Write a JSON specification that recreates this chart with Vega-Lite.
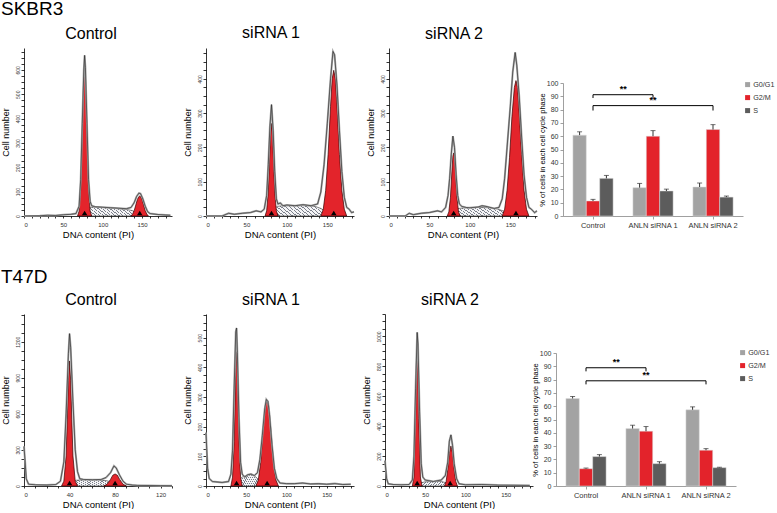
{
"$schema":"https://vega.github.io/schema/vega-lite/v6.json",
"padding":{"left":0,"top":0,"right":0,"bottom":0},
"config":{"view":{"stroke":null},"font":"Liberation Sans","title":{"font":"Liberation Sans","fontWeight":"normal","color":"#000"},"axis":{"labelFont":"Liberation Sans","titleFont":"Liberation Sans","grid":false,"domainColor":"#000","tickColor":"#000","labelColor":"#333","titleColor":"#000","titleFontWeight":"normal","labelOverlap":false,"domainWidth":0.8,"tickWidth":0.8}},
"resolve":{"scale":{"color":"independent"},"legend":{"color":"independent"}},
"datasets":{
"skc":[
{"c":"r","x":0,"v":0},{"c":"r","x":20,"v":1},{"c":"r","x":30,"v":3},{"c":"r","x":40,"v":2},{"c":"r","x":50,"v":5},{"c":"r","x":60,"v":7},{"c":"r","x":66,"v":10},{"c":"r","x":70,"v":40},{"c":"r","x":72,"v":150},{"c":"r","x":74,"v":380},{"c":"r","x":76,"v":600},{"c":"r","x":77,"v":660},{"c":"r","x":78,"v":610},{"c":"r","x":80,"v":380},{"c":"r","x":82,"v":150},{"c":"r","x":84,"v":60},{"c":"r","x":86,"v":42},{"c":"r","x":90,"v":38},{"c":"r","x":100,"v":36},{"c":"r","x":110,"v":34},{"c":"r","x":120,"v":32},{"c":"r","x":130,"v":30},{"c":"r","x":136,"v":35},{"c":"r","x":140,"v":55},{"c":"r","x":143,"v":80},{"c":"r","x":146,"v":94},{"c":"r","x":148,"v":92},{"c":"r","x":151,"v":70},{"c":"r","x":154,"v":40},{"c":"r","x":157,"v":18},{"c":"r","x":160,"v":10},{"c":"r","x":170,"v":6},{"c":"r","x":180,"v":4},{"c":"r","x":186,"v":3},
{"c":"g1","x":68,"v":0},{"c":"g1","x":70,"v":20},{"c":"g1","x":72,"v":110},{"c":"g1","x":74,"v":330},{"c":"g1","x":75,"v":470},{"c":"g1","x":76,"v":580},{"c":"g1","x":77,"v":620},{"c":"g1","x":78,"v":580},{"c":"g1","x":79,"v":470},{"c":"g1","x":80,"v":330},{"c":"g1","x":82,"v":110},{"c":"g1","x":84,"v":20},{"c":"g1","x":86,"v":0},
{"c":"g2","x":136,"v":0},{"c":"g2","x":138,"v":8},{"c":"g2","x":140,"v":22},{"c":"g2","x":142,"v":45},{"c":"g2","x":144,"v":68},{"c":"g2","x":146,"v":80},{"c":"g2","x":147,"v":82},{"c":"g2","x":148,"v":80},{"c":"g2","x":150,"v":68},{"c":"g2","x":152,"v":45},{"c":"g2","x":154,"v":22},{"c":"g2","x":156,"v":8},{"c":"g2","x":158,"v":0},
{"c":"s","x":74,"v":0},{"c":"s","x":78,"v":20},{"c":"s","x":82,"v":35},{"c":"s","x":90,"v":37},{"c":"s","x":100,"v":35},{"c":"s","x":110,"v":33},{"c":"s","x":120,"v":30},{"c":"s","x":130,"v":27},{"c":"s","x":138,"v":22},{"c":"s","x":144,"v":12},{"c":"s","x":150,"v":0},
{"c":"m","x":77,"v":0},{"c":"m","x":147,"v":0}],
"sk1":[
{"c":"r","x":0,"v":0},{"c":"r","x":20,"v":0},{"c":"r","x":25,"v":5},{"c":"r","x":28,"v":8},{"c":"r","x":35,"v":5},{"c":"r","x":45,"v":8},{"c":"r","x":55,"v":10},{"c":"r","x":62,"v":15},{"c":"r","x":68,"v":12},{"c":"r","x":72,"v":20},{"c":"r","x":75,"v":60},{"c":"r","x":77,"v":150},{"c":"r","x":79,"v":260},{"c":"r","x":81,"v":325},{"c":"r","x":83,"v":250},{"c":"r","x":85,"v":130},{"c":"r","x":87,"v":50},{"c":"r","x":89,"v":35},{"c":"r","x":92,"v":38},{"c":"r","x":95,"v":30},{"c":"r","x":100,"v":32},{"c":"r","x":110,"v":30},{"c":"r","x":120,"v":33},{"c":"r","x":130,"v":30},{"c":"r","x":138,"v":35},{"c":"r","x":142,"v":70},{"c":"r","x":146,"v":150},{"c":"r","x":150,"v":270},{"c":"r","x":154,"v":400},{"c":"r","x":157,"v":480},{"c":"r","x":159,"v":470},{"c":"r","x":162,"v":380},{"c":"r","x":165,"v":250},{"c":"r","x":168,"v":130},{"c":"r","x":171,"v":55},{"c":"r","x":174,"v":25},{"c":"r","x":177,"v":20},{"c":"r","x":180,"v":10},{"c":"r","x":183,"v":12},
{"c":"g1","x":73,"v":0},{"c":"g1","x":75,"v":15},{"c":"g1","x":77,"v":70},{"c":"g1","x":79,"v":190},{"c":"g1","x":80,"v":245},{"c":"g1","x":81,"v":270},{"c":"g1","x":82,"v":245},{"c":"g1","x":83,"v":190},{"c":"g1","x":85,"v":70},{"c":"g1","x":87,"v":15},{"c":"g1","x":89,"v":0},
{"c":"g2","x":142,"v":0},{"c":"g2","x":145,"v":20},{"c":"g2","x":148,"v":75},{"c":"g2","x":151,"v":180},{"c":"g2","x":154,"v":320},{"c":"g2","x":156,"v":400},{"c":"g2","x":158,"v":425},{"c":"g2","x":160,"v":400},{"c":"g2","x":162,"v":320},{"c":"g2","x":165,"v":180},{"c":"g2","x":168,"v":75},{"c":"g2","x":171,"v":20},{"c":"g2","x":174,"v":0},
{"c":"s","x":78,"v":0},{"c":"s","x":82,"v":15},{"c":"s","x":88,"v":28},{"c":"s","x":95,"v":30},{"c":"s","x":110,"v":30},{"c":"s","x":125,"v":30},{"c":"s","x":135,"v":28},{"c":"s","x":142,"v":22},{"c":"s","x":150,"v":10},{"c":"s","x":158,"v":0},
{"c":"m","x":81,"v":0},{"c":"m","x":158,"v":0}],
"sk2":[
{"c":"r","x":0,"v":0},{"c":"r","x":20,"v":0},{"c":"r","x":25,"v":8},{"c":"r","x":30,"v":4},{"c":"r","x":40,"v":8},{"c":"r","x":50,"v":10},{"c":"r","x":60,"v":15},{"c":"r","x":65,"v":12},{"c":"r","x":70,"v":25},{"c":"r","x":73,"v":60},{"c":"r","x":75,"v":110},{"c":"r","x":77,"v":180},{"c":"r","x":79,"v":233},{"c":"r","x":81,"v":200},{"c":"r","x":83,"v":120},{"c":"r","x":85,"v":60},{"c":"r","x":87,"v":35},{"c":"r","x":90,"v":28},{"c":"r","x":95,"v":25},{"c":"r","x":100,"v":24},{"c":"r","x":110,"v":26},{"c":"r","x":115,"v":30},{"c":"r","x":120,"v":28},{"c":"r","x":130,"v":22},{"c":"r","x":136,"v":25},{"c":"r","x":140,"v":50},{"c":"r","x":143,"v":110},{"c":"r","x":146,"v":200},{"c":"r","x":150,"v":320},{"c":"r","x":153,"v":420},{"c":"r","x":156,"v":477},{"c":"r","x":158,"v":440},{"c":"r","x":161,"v":350},{"c":"r","x":164,"v":230},{"c":"r","x":167,"v":120},{"c":"r","x":170,"v":55},{"c":"r","x":173,"v":25},{"c":"r","x":176,"v":20},{"c":"r","x":180,"v":10},{"c":"r","x":183,"v":15},
{"c":"g1","x":72,"v":0},{"c":"g1","x":74,"v":12},{"c":"g1","x":76,"v":55},{"c":"g1","x":78,"v":140},{"c":"g1","x":79,"v":175},{"c":"g1","x":80,"v":184},{"c":"g1","x":81,"v":175},{"c":"g1","x":82,"v":140},{"c":"g1","x":84,"v":55},{"c":"g1","x":86,"v":12},{"c":"g1","x":88,"v":0},
{"c":"g2","x":140,"v":0},{"c":"g2","x":143,"v":20},{"c":"g2","x":146,"v":75},{"c":"g2","x":149,"v":170},{"c":"g2","x":152,"v":290},{"c":"g2","x":155,"v":375},{"c":"g2","x":157,"v":395},{"c":"g2","x":159,"v":375},{"c":"g2","x":161,"v":300},{"c":"g2","x":164,"v":180},{"c":"g2","x":167,"v":75},{"c":"g2","x":170,"v":20},{"c":"g2","x":173,"v":0},
{"c":"s","x":76,"v":0},{"c":"s","x":80,"v":12},{"c":"s","x":86,"v":22},{"c":"s","x":95,"v":24},{"c":"s","x":110,"v":25},{"c":"s","x":125,"v":24},{"c":"s","x":135,"v":20},{"c":"s","x":142,"v":14},{"c":"s","x":150,"v":6},{"c":"s","x":157,"v":0},
{"c":"m","x":80,"v":0},{"c":"m","x":157,"v":0}],
"tc":[
{"c":"r","x":0,"v":330},{"c":"r","x":1,"v":200},{"c":"r","x":2,"v":60},{"c":"r","x":4,"v":15},{"c":"r","x":10,"v":10},{"c":"r","x":20,"v":8},{"c":"r","x":28,"v":12},{"c":"r","x":32,"v":40},{"c":"r","x":35,"v":200},{"c":"r","x":37,"v":600},{"c":"r","x":39,"v":1100},{"c":"r","x":40,"v":1267},{"c":"r","x":41,"v":1150},{"c":"r","x":43,"v":700},{"c":"r","x":45,"v":300},{"c":"r","x":47,"v":120},{"c":"r","x":49,"v":60},{"c":"r","x":52,"v":55},{"c":"r","x":60,"v":52},{"c":"r","x":68,"v":55},{"c":"r","x":72,"v":70},{"c":"r","x":76,"v":110},{"c":"r","x":79,"v":167},{"c":"r","x":81,"v":150},{"c":"r","x":84,"v":90},{"c":"r","x":87,"v":40},{"c":"r","x":90,"v":15},{"c":"r","x":95,"v":8},{"c":"r","x":100,"v":5},{"c":"r","x":110,"v":4},{"c":"r","x":120,"v":3},{"c":"r","x":130,"v":2},
{"c":"g1","x":33,"v":0},{"c":"g1","x":35,"v":40},{"c":"g1","x":37,"v":250},{"c":"g1","x":38,"v":550},{"c":"g1","x":39,"v":880},{"c":"g1","x":40,"v":1040},{"c":"g1","x":41,"v":880},{"c":"g1","x":42,"v":550},{"c":"g1","x":43,"v":250},{"c":"g1","x":45,"v":40},{"c":"g1","x":47,"v":0},
{"c":"g2","x":70,"v":0},{"c":"g2","x":73,"v":15},{"c":"g2","x":76,"v":55},{"c":"g2","x":78,"v":90},{"c":"g2","x":80,"v":100},{"c":"g2","x":82,"v":90},{"c":"g2","x":84,"v":55},{"c":"g2","x":87,"v":15},{"c":"g2","x":90,"v":0},
{"c":"s","x":38,"v":0},{"c":"s","x":42,"v":30},{"c":"s","x":46,"v":48},{"c":"s","x":55,"v":52},{"c":"s","x":65,"v":50},{"c":"s","x":72,"v":45},{"c":"s","x":78,"v":30},{"c":"s","x":84,"v":10},{"c":"s","x":88,"v":0},
{"c":"m","x":40,"v":0},{"c":"m","x":80,"v":0}],
"t1":[
{"c":"r","x":0,"v":180},{"c":"r","x":2,"v":60},{"c":"r","x":4,"v":25},{"c":"r","x":8,"v":15},{"c":"r","x":20,"v":12},{"c":"r","x":28,"v":15},{"c":"r","x":31,"v":40},{"c":"r","x":33,"v":120},{"c":"r","x":35,"v":330},{"c":"r","x":37,"v":520},{"c":"r","x":38,"v":533},{"c":"r","x":39,"v":450},{"c":"r","x":41,"v":230},{"c":"r","x":43,"v":80},{"c":"r","x":45,"v":40},{"c":"r","x":48,"v":30},{"c":"r","x":52,"v":38},{"c":"r","x":56,"v":40},{"c":"r","x":60,"v":35},{"c":"r","x":64,"v":45},{"c":"r","x":67,"v":90},{"c":"r","x":70,"v":170},{"c":"r","x":73,"v":260},{"c":"r","x":75,"v":292},{"c":"r","x":77,"v":285},{"c":"r","x":79,"v":240},{"c":"r","x":82,"v":140},{"c":"r","x":85,"v":60},{"c":"r","x":88,"v":25},{"c":"r","x":92,"v":10},{"c":"r","x":100,"v":8},{"c":"r","x":110,"v":8},{"c":"r","x":120,"v":10},{"c":"r","x":130,"v":7},{"c":"r","x":140,"v":8},{"c":"r","x":150,"v":6},{"c":"r","x":160,"v":8},{"c":"r","x":170,"v":5},{"c":"r","x":180,"v":6},
{"c":"g1","x":31,"v":0},{"c":"g1","x":33,"v":30},{"c":"g1","x":35,"v":150},{"c":"g1","x":36,"v":280},{"c":"g1","x":37,"v":400},{"c":"g1","x":38,"v":453},{"c":"g1","x":39,"v":400},{"c":"g1","x":40,"v":280},{"c":"g1","x":41,"v":150},{"c":"g1","x":43,"v":30},{"c":"g1","x":45,"v":0},
{"c":"g2","x":62,"v":0},{"c":"g2","x":65,"v":20},{"c":"g2","x":68,"v":80},{"c":"g2","x":71,"v":190},{"c":"g2","x":74,"v":275},{"c":"g2","x":76,"v":289},{"c":"g2","x":78,"v":270},{"c":"g2","x":81,"v":180},{"c":"g2","x":84,"v":75},{"c":"g2","x":87,"v":20},{"c":"g2","x":90,"v":0},
{"c":"s","x":36,"v":0},{"c":"s","x":40,"v":18},{"c":"s","x":45,"v":30},{"c":"s","x":52,"v":38},{"c":"s","x":56,"v":40},{"c":"s","x":60,"v":35},{"c":"s","x":64,"v":25},{"c":"s","x":70,"v":12},{"c":"s","x":76,"v":0},
{"c":"m","x":38,"v":0},{"c":"m","x":76,"v":0}],
"t2":[
{"c":"r","x":0,"v":170},{"c":"r","x":2,"v":50},{"c":"r","x":4,"v":15},{"c":"r","x":10,"v":10},{"c":"r","x":20,"v":8},{"c":"r","x":30,"v":10},{"c":"r","x":34,"v":40},{"c":"r","x":36,"v":200},{"c":"r","x":38,"v":650},{"c":"r","x":40,"v":1027},{"c":"r","x":41,"v":950},{"c":"r","x":43,"v":500},{"c":"r","x":45,"v":150},{"c":"r","x":47,"v":60},{"c":"r","x":50,"v":40},{"c":"r","x":60,"v":30},{"c":"r","x":70,"v":40},{"c":"r","x":75,"v":70},{"c":"r","x":78,"v":160},{"c":"r","x":80,"v":300},{"c":"r","x":82,"v":342},{"c":"r","x":84,"v":270},{"c":"r","x":86,"v":150},{"c":"r","x":89,"v":50},{"c":"r","x":92,"v":15},{"c":"r","x":100,"v":8},{"c":"r","x":120,"v":10},{"c":"r","x":140,"v":6},{"c":"r","x":160,"v":5},{"c":"r","x":180,"v":4},
{"c":"g1","x":34,"v":0},{"c":"g1","x":36,"v":60},{"c":"g1","x":38,"v":450},{"c":"g1","x":39,"v":800},{"c":"g1","x":40,"v":987},{"c":"g1","x":41,"v":800},{"c":"g1","x":42,"v":450},{"c":"g1","x":44,"v":60},{"c":"g1","x":46,"v":0},
{"c":"g2","x":74,"v":0},{"c":"g2","x":76,"v":30},{"c":"g2","x":78,"v":110},{"c":"g2","x":80,"v":220},{"c":"g2","x":82,"v":268},{"c":"g2","x":84,"v":220},{"c":"g2","x":86,"v":110},{"c":"g2","x":88,"v":30},{"c":"g2","x":90,"v":0},
{"c":"s","x":40,"v":0},{"c":"s","x":44,"v":20},{"c":"s","x":50,"v":28},{"c":"s","x":60,"v":30},{"c":"s","x":70,"v":30},{"c":"s","x":76,"v":22},{"c":"s","x":82,"v":10},{"c":"s","x":88,"v":0},
{"c":"m","x":40,"v":0},{"c":"m","x":81,"v":0}],
"skb":[
{"g":"Control","p":"G0/G1","v":60.8,"hi":63.3},{"g":"Control","p":"G2/M","v":11.3,"hi":12.5},{"g":"Control","p":"S","v":28.3,"hi":30.5},
{"g":"ANLN siRNA 1","p":"G0/G1","v":21.3,"hi":24.5},{"g":"ANLN siRNA 1","p":"G2/M","v":60,"hi":64.2},{"g":"ANLN siRNA 1","p":"S","v":18.8,"hi":20.2},
{"g":"ANLN siRNA 2","p":"G0/G1","v":21.8,"hi":24.8},{"g":"ANLN siRNA 2","p":"G2/M","v":65,"hi":68.7},{"g":"ANLN siRNA 2","p":"S","v":14.2,"hi":15}],
"tkb":[
{"g":"Control","p":"G0/G1","v":65.8,"hi":67.3},{"g":"Control","p":"G2/M","v":13,"hi":13.5},{"g":"Control","p":"S","v":22.1,"hi":23.6},
{"g":"ANLN siRNA 1","p":"G0/G1","v":43.2,"hi":45.7},{"g":"ANLN siRNA 1","p":"G2/M","v":41.2,"hi":44.7},{"g":"ANLN siRNA 1","p":"S","v":16.8,"hi":18.3},
{"g":"ANLN siRNA 2","p":"G0/G1","v":57.3,"hi":59.5},{"g":"ANLN siRNA 2","p":"G2/M","v":26.9,"hi":28.1},{"g":"ANLN siRNA 2","p":"S","v":13.8,"hi":14.1}],
"skbr":[{"id":1,"a":"Control","b":"ANLN siRNA 1","m":"Control","y":91.2,"lo":88.7,"t":"**"},{"id":2,"a":"Control","b":"ANLN siRNA 2","m":"ANLN siRNA 1","y":83,"lo":79.3,"t":"**"}],
"tkbr":[{"id":1,"a":"Control","b":"ANLN siRNA 1","m":"Control","y":88.9,"lo":86.2,"t":"**"},{"id":2,"a":"Control","b":"ANLN siRNA 2","m":"ANLN siRNA 1","y":79.1,"lo":76.4,"t":"**"}]
},
"spacing":28,
"vconcat":[
{"title":{"text":"SKBR3","anchor":"start","fontSize":19,"offset":6},
 "spacing":-3,
 "resolve":{"scale":{"color":"independent"},"legend":{"color":"independent"}},
 "hconcat":[
 {"spacing":7,"hconcat":[
 {"width":148,"height":168,"title":{"text":"Control","fontSize":16,"offset":6,"dx":-7},
  "data":{"name":"skc"},
  "encoding":{"x":{"field":"x","type":"quantitative","scale":{"domain":[0,188],"nice":false},"axis":{"title":"DNA content (PI)","titleFontSize":9.5,"titlePadding":2,"values":[0,10,20,30,40,50,60,70,80,90,100,110,120,130,140,150,160,170,180],"labelExpr":"datum.value % 50 == 0 ? datum.label : ''","labelFontSize":6,"tickSize":2,"labelPadding":3,"format":"d"}},
   "y":{"field":"v","type":"quantitative","scale":{"domain":[0,690],"nice":false},"axis":{"title":"Cell number","titleFontSize":9,"titlePadding":5,"values":[0,25,50,75,100,125,150,175,200,225,250,275,300,325,350,375,400,425,450,475,500,525,550,575,600,625,650,675],"labelExpr":"datum.value % 100 == 0 ? datum.label : ''","labelFontSize":5,"labelAngle":-90,"labelAlign":"center","labelBaseline":"bottom","tickSize":3,"labelPadding":1,"format":"d"}}},
  "layer":[
   {"transform":[{"filter":"datum.c=='s'"}],"mark":{"type":"area","stroke":"#333","strokeWidth":0.6,"fill":{"gradient":"linear","x1":0,"y1":0.2,"x2":1,"y2":0,"stops":[{"offset":0,"color":"#7a7f8a"},{"offset":0.018,"color":"#7a7f8a"},{"offset":0.018,"color":"#f4f4f6"},{"offset":0.0625,"color":"#f4f4f6"},{"offset":0.0625,"color":"#7a7f8a"},{"offset":0.0805,"color":"#7a7f8a"},{"offset":0.0805,"color":"#f4f4f6"},{"offset":0.125,"color":"#f4f4f6"},{"offset":0.125,"color":"#7a7f8a"},{"offset":0.143,"color":"#7a7f8a"},{"offset":0.143,"color":"#f4f4f6"},{"offset":0.1875,"color":"#f4f4f6"},{"offset":0.1875,"color":"#7a7f8a"},{"offset":0.2055,"color":"#7a7f8a"},{"offset":0.2055,"color":"#f4f4f6"},{"offset":0.25,"color":"#f4f4f6"},{"offset":0.25,"color":"#7a7f8a"},{"offset":0.268,"color":"#7a7f8a"},{"offset":0.268,"color":"#f4f4f6"},{"offset":0.3125,"color":"#f4f4f6"},{"offset":0.3125,"color":"#7a7f8a"},{"offset":0.3305,"color":"#7a7f8a"},{"offset":0.3305,"color":"#f4f4f6"},{"offset":0.375,"color":"#f4f4f6"},{"offset":0.375,"color":"#7a7f8a"},{"offset":0.393,"color":"#7a7f8a"},{"offset":0.393,"color":"#f4f4f6"},{"offset":0.4375,"color":"#f4f4f6"},{"offset":0.4375,"color":"#7a7f8a"},{"offset":0.4555,"color":"#7a7f8a"},{"offset":0.4555,"color":"#f4f4f6"},{"offset":0.5,"color":"#f4f4f6"},{"offset":0.5,"color":"#7a7f8a"},{"offset":0.518,"color":"#7a7f8a"},{"offset":0.518,"color":"#f4f4f6"},{"offset":0.5625,"color":"#f4f4f6"},{"offset":0.5625,"color":"#7a7f8a"},{"offset":0.5805,"color":"#7a7f8a"},{"offset":0.5805,"color":"#f4f4f6"},{"offset":0.625,"color":"#f4f4f6"},{"offset":0.625,"color":"#7a7f8a"},{"offset":0.643,"color":"#7a7f8a"},{"offset":0.643,"color":"#f4f4f6"},{"offset":0.6875,"color":"#f4f4f6"},{"offset":0.6875,"color":"#7a7f8a"},{"offset":0.7055,"color":"#7a7f8a"},{"offset":0.7055,"color":"#f4f4f6"},{"offset":0.75,"color":"#f4f4f6"},{"offset":0.75,"color":"#7a7f8a"},{"offset":0.768,"color":"#7a7f8a"},{"offset":0.768,"color":"#f4f4f6"},{"offset":0.8125,"color":"#f4f4f6"},{"offset":0.8125,"color":"#7a7f8a"},{"offset":0.8305,"color":"#7a7f8a"},{"offset":0.8305,"color":"#f4f4f6"},{"offset":0.875,"color":"#f4f4f6"},{"offset":0.875,"color":"#7a7f8a"},{"offset":0.893,"color":"#7a7f8a"},{"offset":0.893,"color":"#f4f4f6"},{"offset":0.9375,"color":"#f4f4f6"},{"offset":0.9375,"color":"#7a7f8a"},{"offset":0.9555,"color":"#7a7f8a"},{"offset":0.9555,"color":"#f4f4f6"},{"offset":1,"color":"#f4f4f6"}]}}},
   {"transform":[{"filter":"datum.c=='g1'"}],"mark":{"type":"area","fill":"#e3242b","stroke":"#300","strokeWidth":0.7}},
   {"transform":[{"filter":"datum.c=='g2'"}],"mark":{"type":"area","fill":"#e3242b","stroke":"#300","strokeWidth":0.7}},
   {"transform":[{"filter":"datum.c=='r'"}],"mark":{"type":"line","stroke":"#a8a8a8","strokeWidth":2}},
   {"transform":[{"filter":"datum.c=='r'"}],"mark":{"type":"line","stroke":"#222","strokeWidth":0.6}},
   {"transform":[{"filter":"datum.c=='m'"}],"mark":{"type":"point","shape":"triangle-up","filled":true,"fill":"#000","stroke":null,"size":30,"yOffset":-3,"opacity":1}}
  ]},
 {"width":148,"height":168,"title":{"text":"siRNA 1","fontSize":16,"offset":6,"dx":-9},
  "data":{"name":"sk1"},
  "encoding":{"x":{"field":"x","type":"quantitative","scale":{"domain":[0,183],"nice":false},"axis":{"title":"DNA content (PI)","titleFontSize":9.5,"titlePadding":2,"values":[0,10,20,30,40,50,60,70,80,90,100,110,120,130,140,150,160,170,180],"labelExpr":"datum.value % 50 == 0 ? datum.label : ''","labelFontSize":6,"tickSize":2,"labelPadding":3,"format":"d"}},
   "y":{"field":"v","type":"quantitative","scale":{"domain":[0,490],"nice":false},"axis":{"title":"Cell number","titleFontSize":9,"titlePadding":5,"values":[0,25,50,75,100,125,150,175,200,225,250,275,300,325,350,375,400,425,450,475],"labelExpr":"datum.value % 100 == 0 ? datum.label : ''","labelFontSize":5,"labelAngle":-90,"labelAlign":"center","labelBaseline":"bottom","tickSize":3,"labelPadding":1,"format":"d"}}},
  "layer":[
   {"transform":[{"filter":"datum.c=='s'"}],"mark":{"type":"area","stroke":"#333","strokeWidth":0.6,"fill":{"gradient":"linear","x1":0,"y1":0.2,"x2":1,"y2":0,"stops":[{"offset":0,"color":"#7a7f8a"},{"offset":0.018,"color":"#7a7f8a"},{"offset":0.018,"color":"#f4f4f6"},{"offset":0.0625,"color":"#f4f4f6"},{"offset":0.0625,"color":"#7a7f8a"},{"offset":0.0805,"color":"#7a7f8a"},{"offset":0.0805,"color":"#f4f4f6"},{"offset":0.125,"color":"#f4f4f6"},{"offset":0.125,"color":"#7a7f8a"},{"offset":0.143,"color":"#7a7f8a"},{"offset":0.143,"color":"#f4f4f6"},{"offset":0.1875,"color":"#f4f4f6"},{"offset":0.1875,"color":"#7a7f8a"},{"offset":0.2055,"color":"#7a7f8a"},{"offset":0.2055,"color":"#f4f4f6"},{"offset":0.25,"color":"#f4f4f6"},{"offset":0.25,"color":"#7a7f8a"},{"offset":0.268,"color":"#7a7f8a"},{"offset":0.268,"color":"#f4f4f6"},{"offset":0.3125,"color":"#f4f4f6"},{"offset":0.3125,"color":"#7a7f8a"},{"offset":0.3305,"color":"#7a7f8a"},{"offset":0.3305,"color":"#f4f4f6"},{"offset":0.375,"color":"#f4f4f6"},{"offset":0.375,"color":"#7a7f8a"},{"offset":0.393,"color":"#7a7f8a"},{"offset":0.393,"color":"#f4f4f6"},{"offset":0.4375,"color":"#f4f4f6"},{"offset":0.4375,"color":"#7a7f8a"},{"offset":0.4555,"color":"#7a7f8a"},{"offset":0.4555,"color":"#f4f4f6"},{"offset":0.5,"color":"#f4f4f6"},{"offset":0.5,"color":"#7a7f8a"},{"offset":0.518,"color":"#7a7f8a"},{"offset":0.518,"color":"#f4f4f6"},{"offset":0.5625,"color":"#f4f4f6"},{"offset":0.5625,"color":"#7a7f8a"},{"offset":0.5805,"color":"#7a7f8a"},{"offset":0.5805,"color":"#f4f4f6"},{"offset":0.625,"color":"#f4f4f6"},{"offset":0.625,"color":"#7a7f8a"},{"offset":0.643,"color":"#7a7f8a"},{"offset":0.643,"color":"#f4f4f6"},{"offset":0.6875,"color":"#f4f4f6"},{"offset":0.6875,"color":"#7a7f8a"},{"offset":0.7055,"color":"#7a7f8a"},{"offset":0.7055,"color":"#f4f4f6"},{"offset":0.75,"color":"#f4f4f6"},{"offset":0.75,"color":"#7a7f8a"},{"offset":0.768,"color":"#7a7f8a"},{"offset":0.768,"color":"#f4f4f6"},{"offset":0.8125,"color":"#f4f4f6"},{"offset":0.8125,"color":"#7a7f8a"},{"offset":0.8305,"color":"#7a7f8a"},{"offset":0.8305,"color":"#f4f4f6"},{"offset":0.875,"color":"#f4f4f6"},{"offset":0.875,"color":"#7a7f8a"},{"offset":0.893,"color":"#7a7f8a"},{"offset":0.893,"color":"#f4f4f6"},{"offset":0.9375,"color":"#f4f4f6"},{"offset":0.9375,"color":"#7a7f8a"},{"offset":0.9555,"color":"#7a7f8a"},{"offset":0.9555,"color":"#f4f4f6"},{"offset":1,"color":"#f4f4f6"}]}}},
   {"transform":[{"filter":"datum.c=='g1'"}],"mark":{"type":"area","fill":"#e3242b","stroke":"#300","strokeWidth":0.7}},
   {"transform":[{"filter":"datum.c=='g2'"}],"mark":{"type":"area","fill":"#e3242b","stroke":"#300","strokeWidth":0.7}},
   {"transform":[{"filter":"datum.c=='r'"}],"mark":{"type":"line","stroke":"#a8a8a8","strokeWidth":2}},
   {"transform":[{"filter":"datum.c=='r'"}],"mark":{"type":"line","stroke":"#222","strokeWidth":0.6}},
   {"transform":[{"filter":"datum.c=='m'"}],"mark":{"type":"point","shape":"triangle-up","filled":true,"fill":"#000","stroke":null,"size":30,"yOffset":-3,"opacity":1}}
  ]},
 {"width":148,"height":168,"title":{"text":"siRNA 2","fontSize":16,"offset":6,"dx":-9},
  "data":{"name":"sk2"},
  "encoding":{"x":{"field":"x","type":"quantitative","scale":{"domain":[0,183],"nice":false},"axis":{"title":"DNA content (PI)","titleFontSize":9.5,"titlePadding":2,"values":[0,10,20,30,40,50,60,70,80,90,100,110,120,130,140,150,160,170,180],"labelExpr":"datum.value % 50 == 0 ? datum.label : ''","labelFontSize":6,"tickSize":2,"labelPadding":3,"format":"d"}},
   "y":{"field":"v","type":"quantitative","scale":{"domain":[0,490],"nice":false},"axis":{"title":"Cell number","titleFontSize":9,"titlePadding":5,"values":[0,25,50,75,100,125,150,175,200,225,250,275,300,325,350,375,400,425,450,475],"labelExpr":"datum.value % 100 == 0 ? datum.label : ''","labelFontSize":5,"labelAngle":-90,"labelAlign":"center","labelBaseline":"bottom","tickSize":3,"labelPadding":1,"format":"d"}}},
  "layer":[
   {"transform":[{"filter":"datum.c=='s'"}],"mark":{"type":"area","stroke":"#333","strokeWidth":0.6,"fill":{"gradient":"linear","x1":0,"y1":0.2,"x2":1,"y2":0,"stops":[{"offset":0,"color":"#7a7f8a"},{"offset":0.018,"color":"#7a7f8a"},{"offset":0.018,"color":"#f4f4f6"},{"offset":0.0625,"color":"#f4f4f6"},{"offset":0.0625,"color":"#7a7f8a"},{"offset":0.0805,"color":"#7a7f8a"},{"offset":0.0805,"color":"#f4f4f6"},{"offset":0.125,"color":"#f4f4f6"},{"offset":0.125,"color":"#7a7f8a"},{"offset":0.143,"color":"#7a7f8a"},{"offset":0.143,"color":"#f4f4f6"},{"offset":0.1875,"color":"#f4f4f6"},{"offset":0.1875,"color":"#7a7f8a"},{"offset":0.2055,"color":"#7a7f8a"},{"offset":0.2055,"color":"#f4f4f6"},{"offset":0.25,"color":"#f4f4f6"},{"offset":0.25,"color":"#7a7f8a"},{"offset":0.268,"color":"#7a7f8a"},{"offset":0.268,"color":"#f4f4f6"},{"offset":0.3125,"color":"#f4f4f6"},{"offset":0.3125,"color":"#7a7f8a"},{"offset":0.3305,"color":"#7a7f8a"},{"offset":0.3305,"color":"#f4f4f6"},{"offset":0.375,"color":"#f4f4f6"},{"offset":0.375,"color":"#7a7f8a"},{"offset":0.393,"color":"#7a7f8a"},{"offset":0.393,"color":"#f4f4f6"},{"offset":0.4375,"color":"#f4f4f6"},{"offset":0.4375,"color":"#7a7f8a"},{"offset":0.4555,"color":"#7a7f8a"},{"offset":0.4555,"color":"#f4f4f6"},{"offset":0.5,"color":"#f4f4f6"},{"offset":0.5,"color":"#7a7f8a"},{"offset":0.518,"color":"#7a7f8a"},{"offset":0.518,"color":"#f4f4f6"},{"offset":0.5625,"color":"#f4f4f6"},{"offset":0.5625,"color":"#7a7f8a"},{"offset":0.5805,"color":"#7a7f8a"},{"offset":0.5805,"color":"#f4f4f6"},{"offset":0.625,"color":"#f4f4f6"},{"offset":0.625,"color":"#7a7f8a"},{"offset":0.643,"color":"#7a7f8a"},{"offset":0.643,"color":"#f4f4f6"},{"offset":0.6875,"color":"#f4f4f6"},{"offset":0.6875,"color":"#7a7f8a"},{"offset":0.7055,"color":"#7a7f8a"},{"offset":0.7055,"color":"#f4f4f6"},{"offset":0.75,"color":"#f4f4f6"},{"offset":0.75,"color":"#7a7f8a"},{"offset":0.768,"color":"#7a7f8a"},{"offset":0.768,"color":"#f4f4f6"},{"offset":0.8125,"color":"#f4f4f6"},{"offset":0.8125,"color":"#7a7f8a"},{"offset":0.8305,"color":"#7a7f8a"},{"offset":0.8305,"color":"#f4f4f6"},{"offset":0.875,"color":"#f4f4f6"},{"offset":0.875,"color":"#7a7f8a"},{"offset":0.893,"color":"#7a7f8a"},{"offset":0.893,"color":"#f4f4f6"},{"offset":0.9375,"color":"#f4f4f6"},{"offset":0.9375,"color":"#7a7f8a"},{"offset":0.9555,"color":"#7a7f8a"},{"offset":0.9555,"color":"#f4f4f6"},{"offset":1,"color":"#f4f4f6"}]}}},
   {"transform":[{"filter":"datum.c=='g1'"}],"mark":{"type":"area","fill":"#e3242b","stroke":"#300","strokeWidth":0.7}},
   {"transform":[{"filter":"datum.c=='g2'"}],"mark":{"type":"area","fill":"#e3242b","stroke":"#300","strokeWidth":0.7}},
   {"transform":[{"filter":"datum.c=='r'"}],"mark":{"type":"line","stroke":"#a8a8a8","strokeWidth":2}},
   {"transform":[{"filter":"datum.c=='r'"}],"mark":{"type":"line","stroke":"#222","strokeWidth":0.6}},
   {"transform":[{"filter":"datum.c=='m'"}],"mark":{"type":"point","shape":"triangle-up","filled":true,"fill":"#000","stroke":null,"size":30,"yOffset":-3,"opacity":1}}
  ]}
 ]},
 {"width":180,"height":168,
  "layer":[
   {"data":{"name":"skb"},"mark":{"type":"bar","stroke":"#ddd","strokeWidth":0.5},
    "encoding":{"x":{"field":"g","type":"nominal","scale":{"domain":["Control","ANLN siRNA 1","ANLN siRNA 2"],"paddingInner":0.33,"paddingOuter":0.165},"axis":{"title":null,"labelAngle":0,"labelFontSize":7.5,"labelColor":"#333","domainColor":"#888","tickColor":"#888","tickSize":3,"labelPadding":2}},
     "xOffset":{"field":"p","type":"nominal","scale":{"domain":["G0/G1","G2/M","S"]}},
     "y":{"field":"v","type":"quantitative","title":"% of cells in each cell cycle phase","scale":{"domain":[0,100],"nice":false,"range":[168,35]},"axis":{"titleFontSize":7.5,"titlePadding":0,"values":[0,10,20,30,40,50,60,70,80,90,100],"labelFontSize":7,"labelColor":"#333","domainColor":"#888","tickColor":"#888","tickSize":3,"labelPadding":2}},
     "color":{"field":"p","type":"nominal","scale":{"domain":["G0/G1","G2/M","S"],"range":["#a3a3a3","#e3232b","#5c5c5c"]},"legend":{"title":null,"orient":"none","legendX":181,"legendY":33,"symbolType":"square","symbolSize":25,"symbolStrokeWidth":0,"labelFontSize":7.2,"labelOffset":2,"rowPadding":5,"padding":0,"labelColor":"#333"}}}},
   {"data":{"name":"skb"},"mark":{"type":"rule","color":"#333","strokeWidth":1},
    "encoding":{"x":{"field":"g","type":"nominal"},"xOffset":{"field":"p","type":"nominal"},"y":{"field":"v","type":"quantitative","title":"% of cells in each cell cycle phase","axis":{"titleFontSize":7.5,"titlePadding":0,"values":[0,10,20,30,40,50,60,70,80,90,100],"labelFontSize":7,"labelColor":"#333","domainColor":"#888","tickColor":"#888","tickSize":3,"labelPadding":2}},"y2":{"field":"hi"}}},
   {"data":{"name":"skb"},"mark":{"type":"tick","orient":"horizontal","color":"#333","size":5,"thickness":1},
    "encoding":{"x":{"field":"g","type":"nominal"},"xOffset":{"field":"p","type":"nominal"},"y":{"field":"hi","type":"quantitative","title":"% of cells in each cell cycle phase","axis":{"titleFontSize":7.5,"titlePadding":0,"values":[0,10,20,30,40,50,60,70,80,90,100],"labelFontSize":7,"labelColor":"#333","domainColor":"#888","tickColor":"#888","tickSize":3,"labelPadding":2}}}},
   {"data":{"name":"skbr"},"mark":{"type":"rule","color":"#000","strokeWidth":1},
    "encoding":{"x":{"field":"a","type":"nominal"},"x2":{"field":"b"},"y":{"field":"y","type":"quantitative","title":"% of cells in each cell cycle phase","axis":{"titleFontSize":7.5,"titlePadding":0,"values":[0,10,20,30,40,50,60,70,80,90,100],"labelFontSize":7,"labelColor":"#333","domainColor":"#888","tickColor":"#888","tickSize":3,"labelPadding":2}}}},
   {"data":{"name":"skbr"},"mark":{"type":"rule","color":"#000","strokeWidth":1},
    "encoding":{"x":{"field":"a","type":"nominal"},"y":{"field":"y","type":"quantitative","title":"% of cells in each cell cycle phase","axis":{"titleFontSize":7.5,"titlePadding":0,"values":[0,10,20,30,40,50,60,70,80,90,100],"labelFontSize":7,"labelColor":"#333","domainColor":"#888","tickColor":"#888","tickSize":3,"labelPadding":2}},"y2":{"field":"lo"}}},
   {"data":{"name":"skbr"},"mark":{"type":"rule","color":"#000","strokeWidth":1},
    "encoding":{"x":{"field":"b","type":"nominal"},"y":{"field":"y","type":"quantitative","title":"% of cells in each cell cycle phase","axis":{"titleFontSize":7.5,"titlePadding":0,"values":[0,10,20,30,40,50,60,70,80,90,100],"labelFontSize":7,"labelColor":"#333","domainColor":"#888","tickColor":"#888","tickSize":3,"labelPadding":2}},"y2":{"field":"lo"}}},
   {"data":{"name":"skbr"},"transform":[{"filter":"datum.id==1"}],"mark":{"type":"text","fontSize":9,"fontWeight":"bold","baseline":"bottom","dy":-1},
    "encoding":{"x":{"field":"m","type":"nominal","bandPosition":1.25},"y":{"field":"y","type":"quantitative","title":"% of cells in each cell cycle phase","axis":{"titleFontSize":7.5,"titlePadding":0,"values":[0,10,20,30,40,50,60,70,80,90,100],"labelFontSize":7,"labelColor":"#333","domainColor":"#888","tickColor":"#888","tickSize":3,"labelPadding":2}},"text":{"field":"t"}}},
   {"data":{"name":"skbr"},"transform":[{"filter":"datum.id==2"}],"mark":{"type":"text","fontSize":9,"fontWeight":"bold","baseline":"bottom","dy":-1},
    "encoding":{"x":{"field":"m","type":"nominal"},"y":{"field":"y","type":"quantitative","title":"% of cells in each cell cycle phase","axis":{"titleFontSize":7.5,"titlePadding":0,"values":[0,10,20,30,40,50,60,70,80,90,100],"labelFontSize":7,"labelColor":"#333","domainColor":"#888","tickColor":"#888","tickSize":3,"labelPadding":2}},"text":{"field":"t"}}}
  ]}
 ]},
{"title":{"text":"T47D","anchor":"start","fontSize":19,"offset":5},
 "spacing":-3,
 "resolve":{"scale":{"color":"independent"},"legend":{"color":"independent"}},
 "hconcat":[
 {"spacing":7,"hconcat":[
 {"width":148,"height":172,"title":{"text":"Control","fontSize":16,"offset":6,"dx":-7},
  "data":{"name":"tc"},
  "encoding":{"x":{"field":"x","type":"quantitative","scale":{"domain":[0,130],"nice":false},"axis":{"title":"DNA content (PI)","titleFontSize":9.5,"titlePadding":2,"values":[0,10,20,30,40,50,60,70,80,90,100,110,120,130],"labelExpr":"datum.value % 40 == 0 ? datum.label : ''","labelFontSize":6,"tickSize":2,"labelPadding":3,"format":"d"}},
   "y":{"field":"v","type":"quantitative","scale":{"domain":[0,1430],"nice":false},"axis":{"title":"Cell number","titleFontSize":9,"titlePadding":5,"values":[0,75,150,225,300,375,450,525,600,675,750,825,900,975,1050,1125,1200,1275,1350,1425],"labelExpr":"datum.value % 300 == 0 ? datum.label : ''","labelFontSize":5,"labelAngle":-90,"labelAlign":"center","labelBaseline":"bottom","tickSize":3,"labelPadding":1,"format":"d"}}},
  "layer":[
   {"transform":[{"filter":"datum.c=='s'"}],"mark":{"type":"area","stroke":"#333","strokeWidth":0.6,"fill":{"gradient":"linear","x1":0,"y1":0.2,"x2":1,"y2":0,"stops":[{"offset":0,"color":"#7a7f8a"},{"offset":0.018,"color":"#7a7f8a"},{"offset":0.018,"color":"#f4f4f6"},{"offset":0.0625,"color":"#f4f4f6"},{"offset":0.0625,"color":"#7a7f8a"},{"offset":0.0805,"color":"#7a7f8a"},{"offset":0.0805,"color":"#f4f4f6"},{"offset":0.125,"color":"#f4f4f6"},{"offset":0.125,"color":"#7a7f8a"},{"offset":0.143,"color":"#7a7f8a"},{"offset":0.143,"color":"#f4f4f6"},{"offset":0.1875,"color":"#f4f4f6"},{"offset":0.1875,"color":"#7a7f8a"},{"offset":0.2055,"color":"#7a7f8a"},{"offset":0.2055,"color":"#f4f4f6"},{"offset":0.25,"color":"#f4f4f6"},{"offset":0.25,"color":"#7a7f8a"},{"offset":0.268,"color":"#7a7f8a"},{"offset":0.268,"color":"#f4f4f6"},{"offset":0.3125,"color":"#f4f4f6"},{"offset":0.3125,"color":"#7a7f8a"},{"offset":0.3305,"color":"#7a7f8a"},{"offset":0.3305,"color":"#f4f4f6"},{"offset":0.375,"color":"#f4f4f6"},{"offset":0.375,"color":"#7a7f8a"},{"offset":0.393,"color":"#7a7f8a"},{"offset":0.393,"color":"#f4f4f6"},{"offset":0.4375,"color":"#f4f4f6"},{"offset":0.4375,"color":"#7a7f8a"},{"offset":0.4555,"color":"#7a7f8a"},{"offset":0.4555,"color":"#f4f4f6"},{"offset":0.5,"color":"#f4f4f6"},{"offset":0.5,"color":"#7a7f8a"},{"offset":0.518,"color":"#7a7f8a"},{"offset":0.518,"color":"#f4f4f6"},{"offset":0.5625,"color":"#f4f4f6"},{"offset":0.5625,"color":"#7a7f8a"},{"offset":0.5805,"color":"#7a7f8a"},{"offset":0.5805,"color":"#f4f4f6"},{"offset":0.625,"color":"#f4f4f6"},{"offset":0.625,"color":"#7a7f8a"},{"offset":0.643,"color":"#7a7f8a"},{"offset":0.643,"color":"#f4f4f6"},{"offset":0.6875,"color":"#f4f4f6"},{"offset":0.6875,"color":"#7a7f8a"},{"offset":0.7055,"color":"#7a7f8a"},{"offset":0.7055,"color":"#f4f4f6"},{"offset":0.75,"color":"#f4f4f6"},{"offset":0.75,"color":"#7a7f8a"},{"offset":0.768,"color":"#7a7f8a"},{"offset":0.768,"color":"#f4f4f6"},{"offset":0.8125,"color":"#f4f4f6"},{"offset":0.8125,"color":"#7a7f8a"},{"offset":0.8305,"color":"#7a7f8a"},{"offset":0.8305,"color":"#f4f4f6"},{"offset":0.875,"color":"#f4f4f6"},{"offset":0.875,"color":"#7a7f8a"},{"offset":0.893,"color":"#7a7f8a"},{"offset":0.893,"color":"#f4f4f6"},{"offset":0.9375,"color":"#f4f4f6"},{"offset":0.9375,"color":"#7a7f8a"},{"offset":0.9555,"color":"#7a7f8a"},{"offset":0.9555,"color":"#f4f4f6"},{"offset":1,"color":"#f4f4f6"}]}}},
   {"transform":[{"filter":"datum.c=='g1'"}],"mark":{"type":"area","fill":"#e3242b","stroke":"#300","strokeWidth":0.7}},
   {"transform":[{"filter":"datum.c=='g2'"}],"mark":{"type":"area","fill":"#e3242b","stroke":"#300","strokeWidth":0.7}},
   {"transform":[{"filter":"datum.c=='r'"}],"mark":{"type":"line","stroke":"#a8a8a8","strokeWidth":2}},
   {"transform":[{"filter":"datum.c=='r'"}],"mark":{"type":"line","stroke":"#222","strokeWidth":0.6}},
   {"transform":[{"filter":"datum.c=='m'"}],"mark":{"type":"point","shape":"triangle-up","filled":true,"fill":"#000","stroke":null,"size":30,"yOffset":-3,"opacity":1}}
  ]},
 {"width":148,"height":172,"title":{"text":"siRNA 1","fontSize":16,"offset":6,"dx":-9},
  "data":{"name":"t1"},
  "encoding":{"x":{"field":"x","type":"quantitative","scale":{"domain":[0,184],"nice":false},"axis":{"title":"DNA content (PI)","titleFontSize":9.5,"titlePadding":2,"values":[0,10,20,30,40,50,60,70,80,90,100,110,120,130,140,150,160,170,180],"labelExpr":"datum.value % 50 == 0 ? datum.label : ''","labelFontSize":6,"tickSize":2,"labelPadding":3,"format":"d"}},
   "y":{"field":"v","type":"quantitative","scale":{"domain":[0,580],"nice":false},"axis":{"title":"Cell number","titleFontSize":9,"titlePadding":5,"values":[0,25,50,75,100,125,150,175,200,225,250,275,300,325,350,375,400,425,450,475,500,525,550,575],"labelExpr":"datum.value % 100 == 0 ? datum.label : ''","labelFontSize":5,"labelAngle":-90,"labelAlign":"center","labelBaseline":"bottom","tickSize":3,"labelPadding":1,"format":"d"}}},
  "layer":[
   {"transform":[{"filter":"datum.c=='s'"}],"mark":{"type":"area","stroke":"#333","strokeWidth":0.6,"fill":{"gradient":"linear","x1":0,"y1":0.2,"x2":1,"y2":0,"stops":[{"offset":0,"color":"#7a7f8a"},{"offset":0.018,"color":"#7a7f8a"},{"offset":0.018,"color":"#f4f4f6"},{"offset":0.0625,"color":"#f4f4f6"},{"offset":0.0625,"color":"#7a7f8a"},{"offset":0.0805,"color":"#7a7f8a"},{"offset":0.0805,"color":"#f4f4f6"},{"offset":0.125,"color":"#f4f4f6"},{"offset":0.125,"color":"#7a7f8a"},{"offset":0.143,"color":"#7a7f8a"},{"offset":0.143,"color":"#f4f4f6"},{"offset":0.1875,"color":"#f4f4f6"},{"offset":0.1875,"color":"#7a7f8a"},{"offset":0.2055,"color":"#7a7f8a"},{"offset":0.2055,"color":"#f4f4f6"},{"offset":0.25,"color":"#f4f4f6"},{"offset":0.25,"color":"#7a7f8a"},{"offset":0.268,"color":"#7a7f8a"},{"offset":0.268,"color":"#f4f4f6"},{"offset":0.3125,"color":"#f4f4f6"},{"offset":0.3125,"color":"#7a7f8a"},{"offset":0.3305,"color":"#7a7f8a"},{"offset":0.3305,"color":"#f4f4f6"},{"offset":0.375,"color":"#f4f4f6"},{"offset":0.375,"color":"#7a7f8a"},{"offset":0.393,"color":"#7a7f8a"},{"offset":0.393,"color":"#f4f4f6"},{"offset":0.4375,"color":"#f4f4f6"},{"offset":0.4375,"color":"#7a7f8a"},{"offset":0.4555,"color":"#7a7f8a"},{"offset":0.4555,"color":"#f4f4f6"},{"offset":0.5,"color":"#f4f4f6"},{"offset":0.5,"color":"#7a7f8a"},{"offset":0.518,"color":"#7a7f8a"},{"offset":0.518,"color":"#f4f4f6"},{"offset":0.5625,"color":"#f4f4f6"},{"offset":0.5625,"color":"#7a7f8a"},{"offset":0.5805,"color":"#7a7f8a"},{"offset":0.5805,"color":"#f4f4f6"},{"offset":0.625,"color":"#f4f4f6"},{"offset":0.625,"color":"#7a7f8a"},{"offset":0.643,"color":"#7a7f8a"},{"offset":0.643,"color":"#f4f4f6"},{"offset":0.6875,"color":"#f4f4f6"},{"offset":0.6875,"color":"#7a7f8a"},{"offset":0.7055,"color":"#7a7f8a"},{"offset":0.7055,"color":"#f4f4f6"},{"offset":0.75,"color":"#f4f4f6"},{"offset":0.75,"color":"#7a7f8a"},{"offset":0.768,"color":"#7a7f8a"},{"offset":0.768,"color":"#f4f4f6"},{"offset":0.8125,"color":"#f4f4f6"},{"offset":0.8125,"color":"#7a7f8a"},{"offset":0.8305,"color":"#7a7f8a"},{"offset":0.8305,"color":"#f4f4f6"},{"offset":0.875,"color":"#f4f4f6"},{"offset":0.875,"color":"#7a7f8a"},{"offset":0.893,"color":"#7a7f8a"},{"offset":0.893,"color":"#f4f4f6"},{"offset":0.9375,"color":"#f4f4f6"},{"offset":0.9375,"color":"#7a7f8a"},{"offset":0.9555,"color":"#7a7f8a"},{"offset":0.9555,"color":"#f4f4f6"},{"offset":1,"color":"#f4f4f6"}]}}},
   {"transform":[{"filter":"datum.c=='g1'"}],"mark":{"type":"area","fill":"#e3242b","stroke":"#300","strokeWidth":0.7}},
   {"transform":[{"filter":"datum.c=='g2'"}],"mark":{"type":"area","fill":"#e3242b","stroke":"#300","strokeWidth":0.7}},
   {"transform":[{"filter":"datum.c=='r'"}],"mark":{"type":"line","stroke":"#a8a8a8","strokeWidth":2}},
   {"transform":[{"filter":"datum.c=='r'"}],"mark":{"type":"line","stroke":"#222","strokeWidth":0.6}},
   {"transform":[{"filter":"datum.c=='m'"}],"mark":{"type":"point","shape":"triangle-up","filled":true,"fill":"#000","stroke":null,"size":30,"yOffset":-3,"opacity":1}}
  ]},
 {"width":148,"height":172,"title":{"text":"siRNA 2","fontSize":16,"offset":6,"dx":-9},
  "data":{"name":"t2"},
  "encoding":{"x":{"field":"x","type":"quantitative","scale":{"domain":[0,184],"nice":false},"axis":{"title":"DNA content (PI)","titleFontSize":9.5,"titlePadding":2,"values":[0,10,20,30,40,50,60,70,80,90,100,110,120,130,140,150,160,170,180],"labelExpr":"datum.value % 50 == 0 ? datum.label : ''","labelFontSize":6,"tickSize":2,"labelPadding":3,"format":"d"}},
   "y":{"field":"v","type":"quantitative","scale":{"domain":[0,1150],"nice":false},"axis":{"title":"Cell number","titleFontSize":9,"titlePadding":5,"values":[0,50,100,150,200,250,300,350,400,450,500,550,600,650,700,750,800,850,900,950,1000,1050,1100,1150],"labelExpr":"datum.value % 200 == 0 ? datum.label : ''","labelFontSize":5,"labelAngle":-90,"labelAlign":"center","labelBaseline":"bottom","tickSize":3,"labelPadding":1,"format":"d"}}},
  "layer":[
   {"transform":[{"filter":"datum.c=='s'"}],"mark":{"type":"area","stroke":"#333","strokeWidth":0.6,"fill":{"gradient":"linear","x1":0,"y1":0.2,"x2":1,"y2":0,"stops":[{"offset":0,"color":"#7a7f8a"},{"offset":0.018,"color":"#7a7f8a"},{"offset":0.018,"color":"#f4f4f6"},{"offset":0.0625,"color":"#f4f4f6"},{"offset":0.0625,"color":"#7a7f8a"},{"offset":0.0805,"color":"#7a7f8a"},{"offset":0.0805,"color":"#f4f4f6"},{"offset":0.125,"color":"#f4f4f6"},{"offset":0.125,"color":"#7a7f8a"},{"offset":0.143,"color":"#7a7f8a"},{"offset":0.143,"color":"#f4f4f6"},{"offset":0.1875,"color":"#f4f4f6"},{"offset":0.1875,"color":"#7a7f8a"},{"offset":0.2055,"color":"#7a7f8a"},{"offset":0.2055,"color":"#f4f4f6"},{"offset":0.25,"color":"#f4f4f6"},{"offset":0.25,"color":"#7a7f8a"},{"offset":0.268,"color":"#7a7f8a"},{"offset":0.268,"color":"#f4f4f6"},{"offset":0.3125,"color":"#f4f4f6"},{"offset":0.3125,"color":"#7a7f8a"},{"offset":0.3305,"color":"#7a7f8a"},{"offset":0.3305,"color":"#f4f4f6"},{"offset":0.375,"color":"#f4f4f6"},{"offset":0.375,"color":"#7a7f8a"},{"offset":0.393,"color":"#7a7f8a"},{"offset":0.393,"color":"#f4f4f6"},{"offset":0.4375,"color":"#f4f4f6"},{"offset":0.4375,"color":"#7a7f8a"},{"offset":0.4555,"color":"#7a7f8a"},{"offset":0.4555,"color":"#f4f4f6"},{"offset":0.5,"color":"#f4f4f6"},{"offset":0.5,"color":"#7a7f8a"},{"offset":0.518,"color":"#7a7f8a"},{"offset":0.518,"color":"#f4f4f6"},{"offset":0.5625,"color":"#f4f4f6"},{"offset":0.5625,"color":"#7a7f8a"},{"offset":0.5805,"color":"#7a7f8a"},{"offset":0.5805,"color":"#f4f4f6"},{"offset":0.625,"color":"#f4f4f6"},{"offset":0.625,"color":"#7a7f8a"},{"offset":0.643,"color":"#7a7f8a"},{"offset":0.643,"color":"#f4f4f6"},{"offset":0.6875,"color":"#f4f4f6"},{"offset":0.6875,"color":"#7a7f8a"},{"offset":0.7055,"color":"#7a7f8a"},{"offset":0.7055,"color":"#f4f4f6"},{"offset":0.75,"color":"#f4f4f6"},{"offset":0.75,"color":"#7a7f8a"},{"offset":0.768,"color":"#7a7f8a"},{"offset":0.768,"color":"#f4f4f6"},{"offset":0.8125,"color":"#f4f4f6"},{"offset":0.8125,"color":"#7a7f8a"},{"offset":0.8305,"color":"#7a7f8a"},{"offset":0.8305,"color":"#f4f4f6"},{"offset":0.875,"color":"#f4f4f6"},{"offset":0.875,"color":"#7a7f8a"},{"offset":0.893,"color":"#7a7f8a"},{"offset":0.893,"color":"#f4f4f6"},{"offset":0.9375,"color":"#f4f4f6"},{"offset":0.9375,"color":"#7a7f8a"},{"offset":0.9555,"color":"#7a7f8a"},{"offset":0.9555,"color":"#f4f4f6"},{"offset":1,"color":"#f4f4f6"}]}}},
   {"transform":[{"filter":"datum.c=='g1'"}],"mark":{"type":"area","fill":"#e3242b","stroke":"#300","strokeWidth":0.7}},
   {"transform":[{"filter":"datum.c=='g2'"}],"mark":{"type":"area","fill":"#e3242b","stroke":"#300","strokeWidth":0.7}},
   {"transform":[{"filter":"datum.c=='r'"}],"mark":{"type":"line","stroke":"#a8a8a8","strokeWidth":2}},
   {"transform":[{"filter":"datum.c=='r'"}],"mark":{"type":"line","stroke":"#222","strokeWidth":0.6}},
   {"transform":[{"filter":"datum.c=='m'"}],"mark":{"type":"point","shape":"triangle-up","filled":true,"fill":"#000","stroke":null,"size":30,"yOffset":-3,"opacity":1}}
  ]}
 ]},
 {"width":180,"height":172,
  "layer":[
   {"data":{"name":"tkb"},"mark":{"type":"bar","stroke":"#ddd","strokeWidth":0.5},
    "encoding":{"x":{"field":"g","type":"nominal","scale":{"domain":["Control","ANLN siRNA 1","ANLN siRNA 2"],"paddingInner":0.33,"paddingOuter":0.165},"axis":{"title":null,"labelAngle":0,"labelFontSize":7.5,"labelColor":"#333","domainColor":"#888","tickColor":"#888","tickSize":3,"labelPadding":2}},
     "xOffset":{"field":"p","type":"nominal","scale":{"domain":["G0/G1","G2/M","S"]}},
     "y":{"field":"v","type":"quantitative","title":"% of cells in each cell cycle phase","scale":{"domain":[0,100],"nice":false,"range":[172,39]},"axis":{"titleFontSize":7.5,"titlePadding":0,"values":[0,10,20,30,40,50,60,70,80,90,100],"labelFontSize":7,"labelColor":"#333","domainColor":"#888","tickColor":"#888","tickSize":3,"labelPadding":2}},
     "color":{"field":"p","type":"nominal","scale":{"domain":["G0/G1","G2/M","S"],"range":["#a3a3a3","#e3232b","#5c5c5c"]},"legend":{"title":null,"orient":"none","legendX":183,"legendY":35,"symbolType":"square","symbolSize":25,"symbolStrokeWidth":0,"labelFontSize":7.2,"labelOffset":2,"rowPadding":5,"padding":0,"labelColor":"#333"}}}},
   {"data":{"name":"tkb"},"mark":{"type":"rule","color":"#333","strokeWidth":1},
    "encoding":{"x":{"field":"g","type":"nominal"},"xOffset":{"field":"p","type":"nominal"},"y":{"field":"v","type":"quantitative","title":"% of cells in each cell cycle phase","axis":{"titleFontSize":7.5,"titlePadding":0,"values":[0,10,20,30,40,50,60,70,80,90,100],"labelFontSize":7,"labelColor":"#333","domainColor":"#888","tickColor":"#888","tickSize":3,"labelPadding":2}},"y2":{"field":"hi"}}},
   {"data":{"name":"tkb"},"mark":{"type":"tick","orient":"horizontal","color":"#333","size":5,"thickness":1},
    "encoding":{"x":{"field":"g","type":"nominal"},"xOffset":{"field":"p","type":"nominal"},"y":{"field":"hi","type":"quantitative","title":"% of cells in each cell cycle phase","axis":{"titleFontSize":7.5,"titlePadding":0,"values":[0,10,20,30,40,50,60,70,80,90,100],"labelFontSize":7,"labelColor":"#333","domainColor":"#888","tickColor":"#888","tickSize":3,"labelPadding":2}}}},
   {"data":{"name":"tkbr"},"mark":{"type":"rule","color":"#000","strokeWidth":1},
    "encoding":{"x":{"field":"a","type":"nominal"},"x2":{"field":"b"},"y":{"field":"y","type":"quantitative","title":"% of cells in each cell cycle phase","axis":{"titleFontSize":7.5,"titlePadding":0,"values":[0,10,20,30,40,50,60,70,80,90,100],"labelFontSize":7,"labelColor":"#333","domainColor":"#888","tickColor":"#888","tickSize":3,"labelPadding":2}}}},
   {"data":{"name":"tkbr"},"mark":{"type":"rule","color":"#000","strokeWidth":1},
    "encoding":{"x":{"field":"a","type":"nominal"},"y":{"field":"y","type":"quantitative","title":"% of cells in each cell cycle phase","axis":{"titleFontSize":7.5,"titlePadding":0,"values":[0,10,20,30,40,50,60,70,80,90,100],"labelFontSize":7,"labelColor":"#333","domainColor":"#888","tickColor":"#888","tickSize":3,"labelPadding":2}},"y2":{"field":"lo"}}},
   {"data":{"name":"tkbr"},"mark":{"type":"rule","color":"#000","strokeWidth":1},
    "encoding":{"x":{"field":"b","type":"nominal"},"y":{"field":"y","type":"quantitative","title":"% of cells in each cell cycle phase","axis":{"titleFontSize":7.5,"titlePadding":0,"values":[0,10,20,30,40,50,60,70,80,90,100],"labelFontSize":7,"labelColor":"#333","domainColor":"#888","tickColor":"#888","tickSize":3,"labelPadding":2}},"y2":{"field":"lo"}}},
   {"data":{"name":"tkbr"},"transform":[{"filter":"datum.id==1"}],"mark":{"type":"text","fontSize":9,"fontWeight":"bold","baseline":"bottom","dy":-1},
    "encoding":{"x":{"field":"m","type":"nominal","bandPosition":1.25},"y":{"field":"y","type":"quantitative","title":"% of cells in each cell cycle phase","axis":{"titleFontSize":7.5,"titlePadding":0,"values":[0,10,20,30,40,50,60,70,80,90,100],"labelFontSize":7,"labelColor":"#333","domainColor":"#888","tickColor":"#888","tickSize":3,"labelPadding":2}},"text":{"field":"t"}}},
   {"data":{"name":"tkbr"},"transform":[{"filter":"datum.id==2"}],"mark":{"type":"text","fontSize":9,"fontWeight":"bold","baseline":"bottom","dy":-1},
    "encoding":{"x":{"field":"m","type":"nominal"},"y":{"field":"y","type":"quantitative","title":"% of cells in each cell cycle phase","axis":{"titleFontSize":7.5,"titlePadding":0,"values":[0,10,20,30,40,50,60,70,80,90,100],"labelFontSize":7,"labelColor":"#333","domainColor":"#888","tickColor":"#888","tickSize":3,"labelPadding":2}},"text":{"field":"t"}}}
  ]}
 ]}
]
}
